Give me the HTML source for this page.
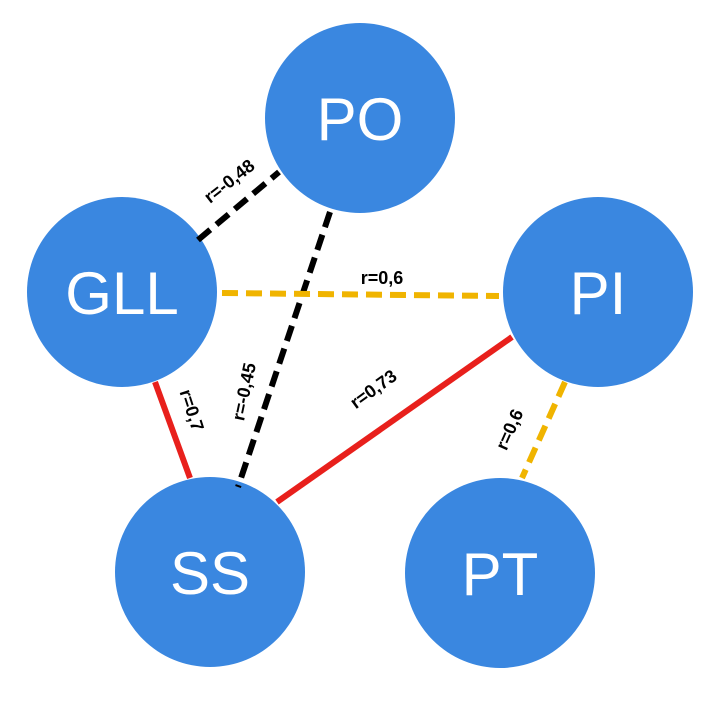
<!DOCTYPE html>
<html><head><style>body{margin:0;background:#fff}</style></head><body>
<svg width="719" height="707" viewBox="0 0 719 707" xmlns="http://www.w3.org/2000/svg">
<g fill="#3a87e0">
<circle cx="360" cy="118" r="95"/>
<circle cx="122" cy="292" r="95"/>
<circle cx="598" cy="292" r="95"/>
<circle cx="210" cy="572" r="95"/>
<circle cx="500" cy="573" r="95"/>
</g>
<g stroke-width="6" fill="none">
<line x1="198" y1="240" x2="279" y2="172" stroke="#000" stroke-dasharray="16,8"/>
<line x1="330" y1="212" x2="238" y2="487" stroke="#000" stroke-dasharray="16,8"/>
<line x1="222" y1="293" x2="499" y2="296" stroke="#f0b400" stroke-dasharray="16,8"/>
<line x1="155" y1="382" x2="190" y2="478" stroke="#e8201c"/>
<line x1="512" y1="337" x2="277" y2="502" stroke="#e8201c"/>
<line x1="565" y1="382" x2="522" y2="478" stroke="#f0b400" stroke-dasharray="16,8"/>
</g>
<g font-family="Liberation Sans, sans-serif" font-weight="bold" font-size="18" fill="#000" text-anchor="middle">
<text transform="translate(233,186) rotate(-38)">r=-0,48</text>
<text x="382" y="284">r=0,6</text>
<text transform="translate(186,412) rotate(72)">r=0,7</text>
<text transform="translate(250,393) rotate(-78)">r=-0,45</text>
<text transform="translate(377,394) rotate(-36)">r=0,73</text>
<text transform="translate(515,432) rotate(-66)">r=0,6</text>
</g>
<g font-family="Liberation Sans, sans-serif" font-size="60" fill="#fff" text-anchor="middle">
<text x="360" y="140">PO</text>
<text x="122" y="314">GLL</text>
<text x="598" y="314">PI</text>
<text x="210" y="594">SS</text>
<text x="500" y="595">PT</text>
</g>
</svg>
</body></html>
